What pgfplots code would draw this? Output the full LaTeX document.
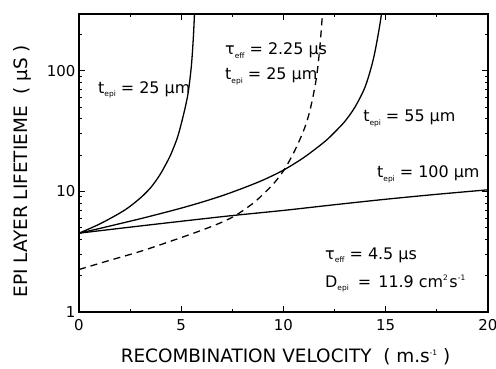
\documentclass[border=0pt]{standalone}
\usepackage{fontspec}
\setmainfont{DejaVu Sans}
\usepackage{pgfplots}
\pgfplotsset{compat=1.18}
\newcommand{\sub}[1]{\raisebox{-3.5bp}{\fontsize{7.5}{8}\selectfont #1}}
\newcommand{\sups}[1]{\raisebox{6.5bp}{\fontsize{7.5}{8}\selectfont #1}}
\begin{document}
\begin{tikzpicture}
\begin{axis}[
  scale only axis, width=409bp, height=298bp,
  xmin=0, xmax=20, ymin=1, ymax=295, ymode=log,
  xtick={0,5,10,15,20}, minor x tick num=1,
  ytick={1,10,100}, yticklabels={1,10,100},
  minor ytick={2,3,4,5,6,7,8,9,20,30,40,50,60,70,80,90,200},
  tick align=inside,
  major tick length=6bp, minor tick length=3.5bp,
  every tick/.style={black, line width=0.8pt},
  axis line style={line width=1.1pt},
  tick label style={font=\fontsize{15}{17}\selectfont},
  /pgf/number format/assume math mode=true,
  xticklabel style={yshift=-4bp},
  xlabel={RECOMBINATION VELOCITY \ ( m.s\sups{-1} )},
  ylabel={EPI LAYER LIFETIEME \ ( µS )},
  xlabel style={font=\fontsize{18.5}{20}\selectfont, at={(rel axis cs:0.5,0)}, anchor=base, yshift=-50bp, xshift=2bp},
  ylabel style={font=\fontsize{18.5}{20}\selectfont, at={(rel axis cs:-0.1271,0.472)}, anchor=base},
]
\coordinate (sw) at (rel axis cs:0,0);
\coordinate (ne) at (rel axis cs:1,1);
\addplot[black, line width=1.3pt, smooth, tension=0.5] coordinates {
(0,4.5)(1,5.35)(2,6.61)(2.5,7.52)(3,8.81)(3.25,9.66)(3.5,10.7)(3.75,12.16)(4,14.1)(4.25,16.79)(4.5,20.4)(4.8,27.5)(5,36.3)(5.2,50.1)(5.35,67.6)(5.5,112)(5.6,200)(5.68,398)};
\addplot[black, line width=1.3pt, smooth, tension=0.5] coordinates {
(0,4.5)(1,4.92)(2,5.40)(3,5.93)(4,6.55)(5,7.26)(6,8.13)(7,9.20)(8,10.6)(9,12.4)(10,15.0)(11,19.1)(12,25.7)(12.5,30.9)(13,38.0)(13.5,50.1)(14,74.1)(14.4,126)(14.7,234)(14.9,398)};
\addplot[black, line width=1.3pt, smooth, tension=0.5] coordinates {
(0,4.5)(2.5,5.05)(5,5.65)(7.5,6.3)(10,6.95)(12.5,7.75)(15,8.6)(17.5,9.45)(20,10.3)};
\addplot[black, line width=1.3pt, smooth, tension=0.5, dash pattern=on 7bp off 5bp] coordinates {
(0,2.25)(1.5,2.68)(3,3.18)(4.5,3.87)(6,4.76)(7,5.56)(7.7,6.38)(8.5,7.94)(9,9.44)(9.5,11.5)(10,14.8)(10.5,20.9)(11,32.4)(11.3,47.3)(11.6,85.1)(11.78,158)(11.92,320)};
\begin{scope}[every node/.style={anchor=base west, inner sep=0pt, font=\fontsize{16}{18}\selectfont}]
\node at (axis cs:0.93,65.3) {t\sub{epi} = 25 µm};
\node at (axis cs:7.14,135) {τ\sub{eff} = 2.25 µs};
\node at (axis cs:7.14,83.8) {t\sub{epi} = 25 µm};
\node at (axis cs:13.89,37.9) {t\sub{epi} = 55 µm};
\node at (axis cs:14.57,12.98) {t\sub{epi} = 100 µm};
\node at (axis cs:12.03,2.73) {τ\sub{eff} = 4.5 µs};
\node at (axis cs:12.03,1.6) {D\sub{epi}\hspace{4bp} = \hspace{2bp}11.9 cm\sups{2}\hspace{1.5bp}s\sups{-1}};
\end{scope}
\end{axis}
\pgfresetboundingbox
\path ([shift={(-79bp,-56.3bp)}]sw) rectangle ([shift={(8bp,14bp)}]ne);
\end{tikzpicture}
\end{document}
